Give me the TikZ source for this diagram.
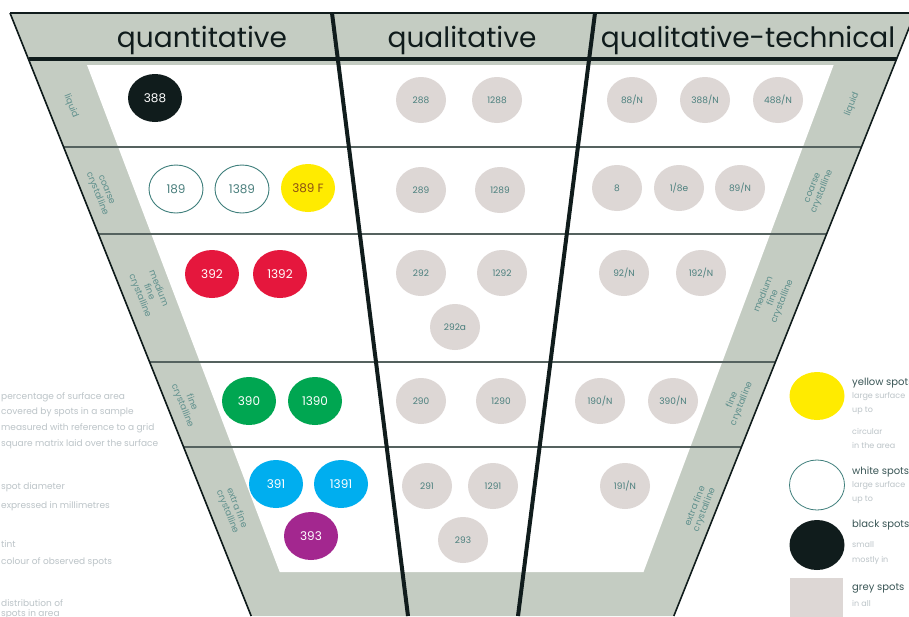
\documentclass[tikz,border=0pt]{standalone}
\usepackage{fontspec}
\setmainfont{Poppins}
\usetikzlibrary{shapes.geometric}
\definecolor{band}{HTML}{C4CCC2}
\definecolor{inkc}{HTML}{101C1C}
\definecolor{rowc}{HTML}{55625F}
\definecolor{spotgrey}{HTML}{DDD7D5}
\definecolor{labteal}{HTML}{4A7F7D}
\definecolor{sideteal}{HTML}{5E8F8C}
\definecolor{yel}{HTML}{FFEB00}
\definecolor{redc}{HTML}{E5173D}
\definecolor{grn}{HTML}{00A651}
\definecolor{cyn}{HTML}{00AEEF}
\definecolor{pur}{HTML}{A3278F}
\definecolor{whiteline}{HTML}{3F7F7C}
\definecolor{pale}{HTML}{BCC4C8}
\definecolor{legdark}{HTML}{3A5656}
\tikzset{
 spot/.style={ellipse, minimum width=54, minimum height=48, inner sep=0, font=\fontsize{12}{12}\selectfont},
 qspot/.style={ellipse, fill=spotgrey, minimum width=50, minimum height=46, inner sep=0, text=labteal, font=\fontsize{9}{9}\selectfont},
 sidelab/.style={align=center, text=sideteal, font=\fontsize{9}{10}\selectfont, inner sep=0},
 rowline/.style={draw=rowc, line width=1.5},
 divider/.style={draw=inkc, line width=4},
 edgeline/.style={draw=inkc, line width=1.6},
 headtext/.style={anchor=base, text=inkc, font=\fontsize{28}{28}\selectfont, inner sep=0},
 paletext/.style={anchor=west, text=pale, font=\fontsize{9}{9}\selectfont, inner sep=0},
 legtext/.style={anchor=west, text=legdark, font=\fontsize{10}{10}\selectfont, inner sep=0},
 legsub/.style={anchor=west, text=pale, font=\fontsize{8}{8}\selectfont, inner sep=0}
}
\begin{document}
\begin{tikzpicture}[x=1pt,y=-1pt]
\useasboundingbox (0,0) rectangle (909,616);
\begin{scope}
\clip (0,0) rectangle (909,616);
\fill[white] (0,0) rectangle (909,616);
% funnel band
\fill[band] (10,13) -- (915,13) -- (673.8,616) -- (251.2,616) -- cycle;
% inner white area
\fill[white] (87,65) -- (833.6,65) -- (643.5,572) -- (279.7,572) -- cycle;
% row lines
\coordinate (r1l) at (63.6,147); \coordinate (r1r) at (861.4,147);
\coordinate (r2l) at (98.4,234); \coordinate (r2r) at (826.6,234);
\coordinate (r3l) at (149.6,362); \coordinate (r3r) at (775.4,362);
\coordinate (r4l) at (183.6,447); \coordinate (r4r) at (741.4,447);
\draw[rowline] (r1l) -- (r1r);
\draw[rowline] (r2l) -- (r2r);
\draw[rowline] (r3l) -- (r3r);
\draw[rowline] (r4l) -- (r4r);
% outer edges
\coordinate (tl) at (10,13); \coordinate (tr) at (915,13);
\coordinate (bl) at (251.2,616); \coordinate (br) at (673.8,616);
\draw[edgeline] (tl) -- (bl);
\draw[edgeline] (tr) -- (br);
\draw[draw=inkc, line width=2.5] (tl) -- (tr);
\coordinate (hl) at (28.8,59); \coordinate (hr) at (896.6,59);
\draw[draw=inkc, line width=3.5] (hl) -- (hr);
% column dividers
\coordinate (d1t) at (332,13); \coordinate (d1b) at (408,616);
\coordinate (d2t) at (595,13); \coordinate (d2b) at (518,616);
\draw[divider] (d1t) -- (d1b);
\draw[divider] (d2t) -- (d2b);
% header texts
\node[headtext] (hq) at (202,47) {quantitative};
\node[headtext] (hql) at (462,47) {qualitative};
\node[headtext] (hqt) at (748,47) {qualitative-technical};
% quantitative spots
\node[spot, fill=inkc, text=white] (s388) at (155,98) {388};
\node[spot, fill=white, draw=whiteline, line width=0.9, text=labteal] (s189) at (176,189) {189};
\node[spot, fill=white, draw=whiteline, line width=0.9, text=labteal] (s1389) at (242,189) {1389};
\node[spot, fill=yel, text={rgb,255:red,140;green,80;blue,20}] (s389f) at (308,188) {389 F};
\node[spot, fill=redc, text=white] (s392) at (212,274) {392};
\node[spot, fill=redc, text=white] (s1392) at (280,274) {1392};
\node[spot, fill=grn, text=white] (s390) at (249,401) {390};
\node[spot, fill=grn, text=white] (s1390) at (315,401) {1390};
\node[spot, fill=cyn, text=white] (s391) at (276,484) {391};
\node[spot, fill=cyn, text=white] (s1391) at (341,484) {1391};
\node[spot, fill=pur, text=white] (s393) at (311,536) {393};
% qualitative spots
\node[qspot] (g288) at (421,100) {288};
\node[qspot] (g1288) at (497,100) {1288};
\node[qspot] (g289) at (421,190) {289};
\node[qspot] (g1289) at (500,190) {1289};
\node[qspot] (g292) at (421,273) {292};
\node[qspot] (g1292) at (502,273) {1292};
\node[qspot] (g292a) at (455,327) {292a};
\node[qspot] (g290) at (421,401) {290};
\node[qspot] (g1290) at (501,401) {1290};
\node[qspot] (g291) at (427,486) {291};
\node[qspot] (g1291) at (493,486) {1291};
\node[qspot] (g293) at (463,540) {293};
% qualitative-technical spots
\node[qspot] (t1a) at (632,100) {88/N};
\node[qspot] (t1b) at (705,100) {388/N};
\node[qspot] (t1c) at (778,100) {488/N};
\node[qspot] (t2a) at (617,188) {8};
\node[qspot] (t2b) at (679,188) {1/8e};
\node[qspot] (t2c) at (740,188) {89/N};
\node[qspot] (t3a) at (624,273) {92/N};
\node[qspot] (t3b) at (701,273) {192/N};
\node[qspot] (t4a) at (600,401) {190/N};
\node[qspot] (t4b) at (673,401) {390/N};
\node[qspot] (t5a) at (625,486) {191/N};
% side labels left
\node[sidelab, rotate=-68.2] (l1) at (71,106) {liquid};
\node[sidelab, rotate=-68.2] (l2) at (101,192) {coarse\\crystalline};
\node[sidelab, rotate=-68.2] (l3) at (149,292) {medium\\fine\\crystalline};
\node[sidelab, rotate=-68.2] (l4) at (187,404) {fine\\crystalline};
\node[sidelab, rotate=-68.2] (l5) at (232,510) {extra fine\\crystalline};
% side labels right
\node[sidelab, rotate=68.2] (rl1) at (852,104) {liquid};
\node[sidelab, rotate=68.2] (rl2) at (818,190) {coarse\\crystalline};
\node[sidelab, rotate=68.2] (rl3) at (773,298) {medium\\fine\\crystalline};
\node[sidelab, rotate=68.2] (rl4) at (737,402) {fine\\crystalline};
\node[sidelab, rotate=68.2] (rl5) at (700,508) {extra fine\\crystalline};
% left legend text
\node[paletext] (p1) at (1,397) {percentage of surface area};
\node[paletext] (p2) at (1,412) {covered by spots in a sample};
\node[paletext] (p3) at (1,428) {measured with reference to a grid};
\node[paletext] (p4) at (1,444) {square matrix laid over the surface};
\node[paletext] (p5) at (1,487) {spot diameter};
\node[paletext] (p6) at (1,506) {expressed in millimetres};
\node[paletext] (p7) at (1,544) {tint};
\node[paletext] (p8) at (1,562) {colour of observed spots};
\node[paletext] (p9) at (1,603) {distribution of};
\node[paletext] (p10) at (1,614) {spots in area};
% right legend
\node[ellipse, fill=yel, minimum width=55, minimum height=48, inner sep=0] (ky) at (817,396) {};
\node[ellipse, fill=white, draw=whiteline, line width=0.8, minimum width=55, minimum height=50, inner sep=0] (kw) at (817,485) {};
\node[ellipse, fill=inkc, minimum width=55, minimum height=50, inner sep=0] (kb) at (817,545) {};
\node[rectangle, fill=spotgrey, minimum width=53, minimum height=50, inner sep=0, anchor=north] (kg) at (816.5,578) {};
\node[legtext] (ty) at (852,383) {yellow spots};
\node[legsub] (ty1) at (852,397) {large surface};
\node[legsub] (ty2) at (852,411) {up to};
\node[legsub] (ty3) at (852,431) {circular};
\node[legsub] (ty4) at (852,445) {in the area};
\node[legtext] (tw) at (852,472) {white spots};
\node[legsub] (tw1) at (852,486) {large surface};
\node[legsub] (tw2) at (852,500) {up to};
\node[legtext] (tb) at (852,525) {black spots};
\node[legsub] (tb1) at (852,545) {small};
\node[legsub] (tb2) at (852,560) {mostly in};
\node[legtext] (tg) at (852,588) {grey spots};
\node[legsub] (tg1) at (852,603) {in all};
\end{scope}
\end{tikzpicture}
\end{document}
